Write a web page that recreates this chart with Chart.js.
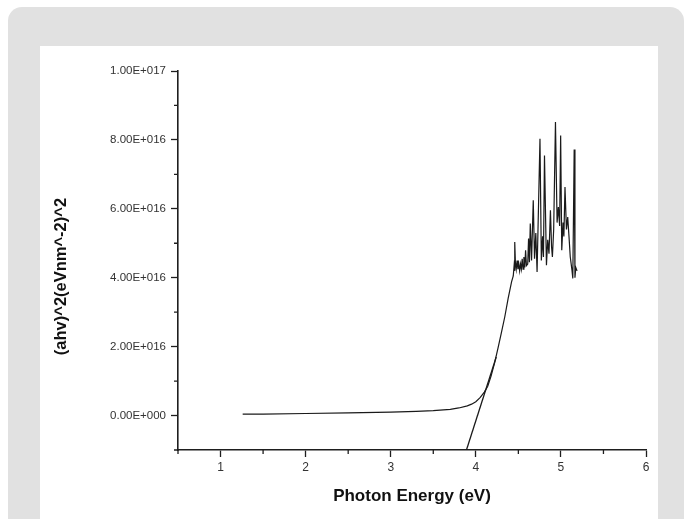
<!DOCTYPE html>
<html>
<head>
<meta charset="utf-8">
<script src="https://cdn.jsdelivr.net/npm/chart.js@4"></script>
<style>
html,body{margin:0;padding:0;background:#fff;}
#card{position:absolute;left:8px;top:7px;width:676px;height:540px;background:#e1e1e1;border-radius:14px;}
#panel{position:absolute;left:40px;top:46px;width:618px;height:480px;background:#fff;}
#c{position:absolute;left:0;top:0;}
</style>
</head>
<body>
<div id="card"></div>
<div id="panel"></div>
<canvas id="c" width="686" height="519"></canvas>
<script>
// photon energy (eV) and (ahv)^2 in units of 1e16
const energy = [1.26,1.5,2.0,2.5,3.0,3.3,3.5,3.7,3.8,3.9,3.95,4.0,4.05,4.1,4.14,4.18,4.22,4.26,4.30,4.34,4.38,4.42,4.44,
  4.45,4.455,4.46,4.465,4.475,4.485,4.495,4.505,4.515,4.525,4.535,4.545,4.555,4.565,4.575,4.585,4.595,4.61,4.62,4.63,4.64,4.655,
  4.675,4.69,4.705,4.72,4.754,4.77,4.785,4.795,4.807,4.83,4.845,4.86,4.877,4.89,4.90,4.915,4.936,4.955,4.97,4.985,4.997,
  5.01,5.025,5.035,5.048,5.065,5.08,5.095,5.11,5.13,5.14,5.156,5.165,5.175,5.19];
const absSq = [0.04,0.04,0.06,0.08,0.10,0.12,0.14,0.18,0.22,0.28,0.33,0.40,0.52,0.68,0.85,1.15,1.52,1.95,2.40,2.86,3.40,3.88,4.05,
  4.35,4.20,5.04,4.45,4.25,4.50,4.25,4.40,4.20,4.40,4.25,4.55,4.25,4.60,4.30,4.80,4.35,4.40,5.14,4.45,5.57,4.50,
  6.25,4.55,5.30,4.17,8.03,4.50,5.20,4.60,7.55,4.36,5.10,4.70,5.96,4.90,4.60,5.40,8.52,5.60,6.05,5.50,8.13,
  4.80,5.60,5.20,6.63,5.40,5.76,5.20,4.60,4.22,3.98,7.72,4.00,4.30,4.20];
// tangent line extrapolated to the axis
const tangentX = [3.89,4.24];
const tangentY = [-1.0,1.70];

const xMajor = [1,2,3,4,5,6];
const xMinor = [0.5,1.5,2.5,3.5,4.5,5.5];
const yMajor = [0,2,4,6,8,10];
const yMinor = [-1,1,3,5,7,9];

const axisColor = "#1e1e1e";

function sci(v){
  if(v===0) return "0.00E+000";
  const e = Math.floor(Math.log10(Math.abs(v)*1e16)+1e-9);
  const m = v*1e16/Math.pow(10,e);
  return m.toFixed(2)+"E+"+String(e).padStart(3,"0");
}

const minorTicks = {
  id:"minorTicks",
  afterDraw(chart){
    const {ctx, scales:{x,y}} = chart;
    ctx.save();
    ctx.strokeStyle = axisColor;
    ctx.lineWidth = 1.3;
    ctx.beginPath();
    xMinor.forEach(v=>{
      const px = x.getPixelForValue(v);
      ctx.moveTo(px, y.bottom);
      ctx.lineTo(px, y.bottom+4);
    });
    yMinor.forEach(v=>{
      const py = y.getPixelForValue(v);
      ctx.moveTo(x.left, py);
      ctx.lineTo(x.left-4, py);
    });
    ctx.stroke();
    ctx.restore();
  }
};

new Chart(document.getElementById("c"),{
  type:"scatter",
  data:{
    datasets:[{
      data:energy.map((e,i)=>({x:e,y:absSq[i]})),
      showLine:true,
      borderColor:"#1a1a1a",
      borderWidth:1.2,
      pointRadius:0,
      tension:0
    },{
      data:tangentX.map((e,i)=>({x:e,y:tangentY[i]})),
      showLine:true,
      borderColor:"#1a1a1a",
      borderWidth:1.3,
      pointRadius:0
    }]
  },
  options:{
    responsive:false,
    animation:false,
    layout:{padding:{left:40,right:40,top:71,bottom:0}},
    plugins:{legend:{display:false},tooltip:{enabled:false}},
    scales:{
      x:{
        type:"linear",
        min:0.5,max:6,
        afterFit(s){ s.height = 69; },
        afterBuildTicks(s){ s.ticks = xMajor.map(v=>({value:v})); },
        border:{color:axisColor,width:1.6},
        grid:{drawOnChartArea:false,drawTicks:true,tickLength:7,color:axisColor,tickWidth:1.3},
        ticks:{color:"#333",font:{family:"Liberation Sans",size:12},padding:3,maxRotation:0},
        title:{display:true,text:"Photon Energy (eV)",color:"#111",font:{family:"Liberation Sans",size:17,weight:"bold"},padding:{bottom:12}}
      },
      y:{
        type:"linear",
        min:-1,max:10,
        afterFit(s){ s.width = 138; },
        afterBuildTicks(s){ s.ticks = yMajor.map(v=>({value:v})); },
        border:{color:axisColor,width:1.6},
        grid:{drawOnChartArea:false,drawTicks:true,tickLength:7,color:axisColor,tickWidth:1.3},
        ticks:{color:"#333",font:{family:"Liberation Sans",size:11.5},padding:5,callback:v=>sci(v)},
        title:{display:true,text:"(ahv)^2(eVnm^-2)^2       ",color:"#111",font:{family:"Liberation Sans",size:16.5,weight:"bold"},padding:{top:12}}
      }
    }
  },
  plugins:[minorTicks]
});
</script>
</body>
</html>
